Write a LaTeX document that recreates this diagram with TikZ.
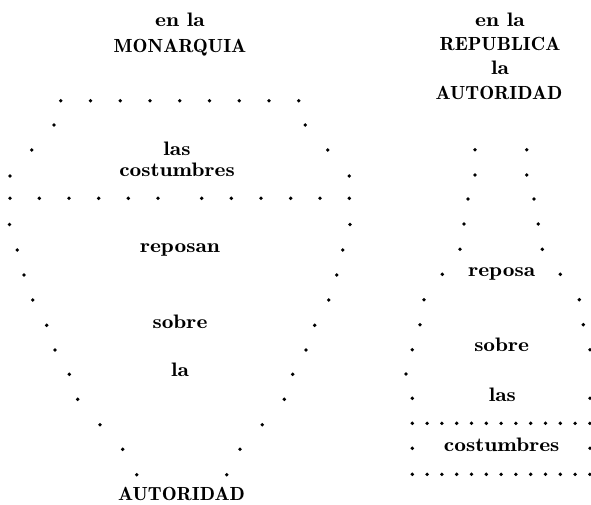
\documentclass[tikz,border=0pt]{standalone}
\usepackage{fontspec}
\newfontfamily\lcfont{lmromandemi10-regular.otf}[FakeStretch=1.2]
\newfontfamily\ucfont{lmromandemi10-regular.otf}[FakeStretch=1.05]
\begin{document}
\begin{tikzpicture}[x=1pt,y=-1pt,
  lc/.style={font=\lcfont\fontsize{19.5}{24}\selectfont, anchor=base, inner sep=0pt},
  uc/.style={font=\ucfont\fontsize{19}{24}\selectfont, anchor=base, inner sep=0pt},
  pt/.style={fill=black}]
\useasboundingbox (0,0) rectangle (591,504);
% ---- left figure (MONARQUIA) ----
\foreach \i in {0,...,8} \fill[pt] ({60.7+29.75*\i},100.7) circle[radius=1.9];
\foreach \x in {10,39.3,69,98.7,128.3,158,201.7,231.3,261,290.7,320,349.3}
  \fill[pt] (\x,198.3) circle[radius=1.9];
\foreach \l/\r/\y in {54/305.3/125, 31.7/327.7/150, 10/349.3/176, 9.5/350/224.5,
  17.3/342.7/250, 24/336.7/275, 32.7/328.7/300, 46.7/314.7/325.3, 55/306/350,
  69.3/292.7/374.3, 77.7/284.3/399.3, 100/262.3/424.7, 122.7/240/449.3, 136.7/226.7/474.7}
  {\fill[pt] (\l,\y) circle[radius=1.9]; \fill[pt] (\r,\y) circle[radius=1.9];}
% ---- right figure (REPUBLICA) ----
\foreach \l/\r/\y in {475/526.7/149.7, 475/526.7/175, 468/534/199, 464/538.3/224,
  460/542.3/249.3, 442.3/560.3/274.3, 424/579.3/299.7, 420/583.3/324.7,
  412.3/590/349.7, 412.3/590/398.3, 412.3/590/448.3}
  {\fill[pt] (\l,\y) circle[radius=1.9]; \fill[pt] (\r,\y) circle[radius=1.9];}
\fill[pt] (406,374) circle[radius=1.9];
\foreach \i in {0,...,12} {
  \fill[pt] ({412.3+14.8*\i},423.3) circle[radius=1.9];
  \fill[pt] ({412.3+14.8*\i},474.3) circle[radius=1.9];}
% ---- texts ----
\node[lc] (enlaA) at (180,26.5) {en la};
\node[uc] (monarquia) at (180,52) {MONARQUIA};
\node[lc] (enlaB) at (500,26) {en la};
\node[uc] (republica) at (500,50) {REPUBLICA};
\node[lc] (laB) at (500,74) {la};
\node[uc] (autoridadB) at (499,99.5) {AUTORIDAD};
\node[lc] (lasA) at (177,155) {las};
\node[lc] (costumbresA) at (177,176.5) {costumbres};
\node[lc] (reposan) at (180,252.3) {reposan};
\node[lc] (sobreA) at (180,328.3) {sobre};
\node[lc] (laA) at (180,376.7) {la};
\node[uc] (autoridadA) at (181.5,500.5) {AUTORIDAD};
\node[lc] (reposa) at (501.7,276.7) {reposa};
\node[lc] (sobreB) at (501.7,351.7) {sobre};
\node[lc] (lasB) at (502.3,401.7) {las};
\node[lc] (costumbresB) at (501.7,451.7) {costumbres};
\end{tikzpicture}
\end{document}
